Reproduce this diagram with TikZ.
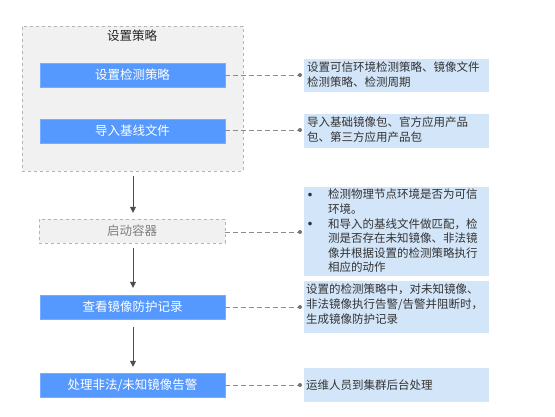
\documentclass[tikz,border=0pt]{standalone}
\usepackage{fontspec}
\setmainfont{Noto Sans CJK SC}
\usetikzlibrary{arrows.meta}
\definecolor{blueA}{HTML}{5599FF}
\definecolor{noteA}{HTML}{D3E5F8}
\definecolor{grayF}{HTML}{F1F1F1}
\definecolor{grayB}{HTML}{B4B4B4}
\definecolor{txt}{HTML}{333333}
\tikzset{
  x=1pt,y=-1pt,
  bluebox/.style={fill=blueA,draw=blueA!80!white,minimum width=185pt,minimum height=24pt,inner sep=0pt,text=white,font=\fontsize{12.5}{14}\selectfont},
  graybox/.style={fill=grayF,draw=grayB,dashed,minimum width=186pt,minimum height=24pt,inner sep=0pt,text=black!50,font=\fontsize{12.5}{14}\selectfont},
  notebox/.style={fill=noteA,draw=none,anchor=north west,inner sep=0pt,text=txt,font=\fontsize{11.5}{14.6}\selectfont},
  notetext/.style={anchor=north west,inner sep=0pt,align=left,text=txt,font=\fontsize{11.5}{14.6}\selectfont},
  bullet/.style={text=txt,inner sep=0pt,font=\fontsize{17}{17}\selectfont},
  conn/.style={draw=black!45,dashed,dash pattern=on 5pt off 3pt},
  dotc/.style={circle,fill=black!55,inner sep=0pt,minimum size=4pt},
  flow/.style={draw=black!70,line width=0.8pt,-{Triangle[length=6pt,width=6pt]}},
}
\begin{document}
\begin{tikzpicture}
\useasboundingbox (0,0) rectangle (555,416);
% outer group
\node[fill=grayF,draw=grayB,dashed,minimum width=221pt,minimum height=145pt,inner sep=0pt,anchor=north west] (grp) at (22,26) {};
\node[font=\fontsize{12.5}{14}\selectfont,text=black!85] (grpt) at (132,36) {设置策略};
% flow boxes
\node[bluebox] (b1) at (132.5,75) {设置检测策略};
\node[bluebox] (b2) at (132.5,131) {导入基线文件};
\node[graybox] (b3) at (132,231) {启动容器};
\node[bluebox] (b4) at (132.5,307) {查看镜像防护记录};
\node[bluebox] (b5) at (132.5,385) {处理非法/未知镜像告警};
% arrows
\coordinate (a0) at (133,176);
\draw[flow] (a0) -- ([xshift=1pt,yshift=6pt]b3.north);
\draw[flow] ([xshift=1pt,yshift=-5pt]b3.south) -- ([xshift=0.5pt,yshift=7pt]b4.north);
\draw[flow] ([xshift=0.5pt,yshift=-8pt]b4.south) -- ([xshift=0.5pt,yshift=6pt]b5.north);
% notes
\node[notebox,minimum width=185pt,minimum height=33pt] (n1) at (304,59) {};
\node[notetext] at (307,62) {设置可信环境检测策略、镜像文件\\检测策略、检测周期};
\node[notebox,minimum width=185pt,minimum height=34pt] (n2) at (304,114) {};
\node[notetext] at (307,117) {导入基础镜像包、官方应用产品\\包、第三方应用产品包};
\node[notebox,minimum width=185pt,minimum height=89pt] (n3) at (304,187) {};
\node[notetext] at (328,189) {检测物理节点环境是否为可信\\环境。\\和导入的基线文件做匹配，检\\测是否存在未知镜像、非法镜\\像并根据设置的检测策略执行\\相应的动作};
\node[bullet] (bu1) at (310,197) {•};
\node[bullet] (bu2) at (310,226) {•};
\node[notebox,minimum width=185pt,minimum height=52pt] (n4) at (304,281) {};
\node[notetext] at (306,284) {设置的检测策略中，对未知镜像、\\非法镜像执行告警/告警并阻断时，\\生成镜像防护记录};
\node[notebox,minimum width=185pt,minimum height=34pt] (n5) at (304,368) {};
\node[anchor=west,inner sep=0pt,text=txt,font=\fontsize{11.5}{14.6}\selectfont] at (306,385) {运维人员到集群后台处理};
% connectors
\foreach \b/\n/\y in {b1/n1/75,b2/n2/130,b3/n3/232,b4/n4/307,b5/n5/385}{
  \coordinate (e\b) at (300,\y);
  \draw[conn] (\b.east |- e\b) -- (e\b);
  \node[dotc] at (e\b) {};
}
\end{tikzpicture}
\end{document}
